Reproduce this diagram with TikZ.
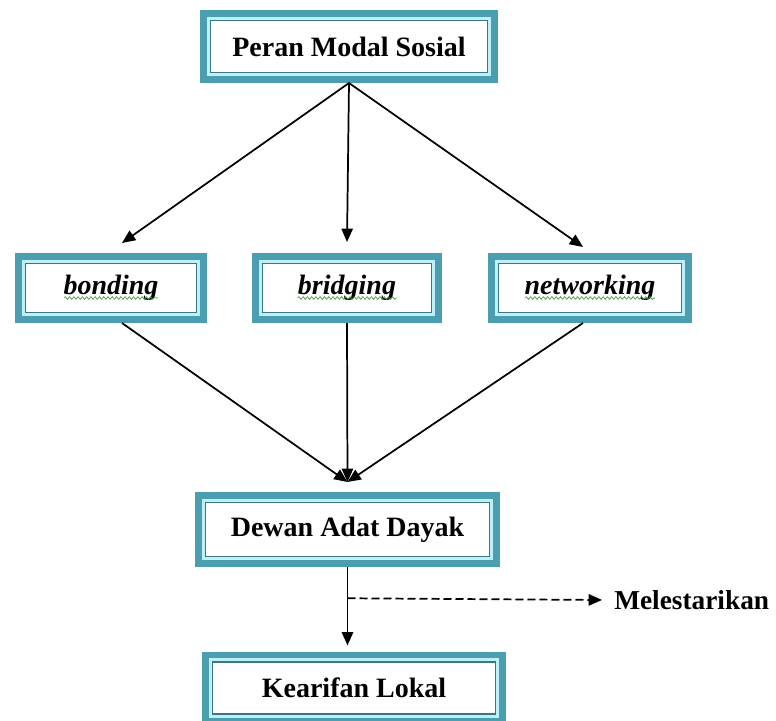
\documentclass[tikz,border=0pt]{standalone}
\usepackage{fontspec}
\setmainfont{Liberation Serif}
\usepackage{tikz}
\usetikzlibrary{calc, positioning, arrows.meta, decorations.pathmorphing}
\usepackage{color}
\definecolor{boxteal}{RGB}{74,158,176}
\definecolor{gapcyan}{RGB}{190,240,248}
\definecolor{innerteal}{RGB}{58,118,132}
\definecolor{wavegreen}{RGB}{70,150,70}

\begin{document}
\begin{tikzpicture}[x=0.75pt, y=0.75pt]
    % Setup the styles for the boxes and arrows
        \tikzset{modal box/.style={rectangle,
                                   draw=boxteal,
                                   line width=5pt,
                                   fill=white,
                                   inner sep=0pt,
                                   font=\fontsize{21}{25}\selectfont\bfseries},
                 gap line/.style={draw=gapcyan, line width=2.2pt},
                 inner line/.style={draw=innerteal, line width=0.8pt},
                 spell wave/.style={draw=wavegreen, line width=0.5pt,
                                    decorate, decoration={snake, amplitude=1pt, segment length=3.2pt}},
                 link/.style={line width=1.3pt, -{Triangle[length=10pt,width=8.5pt]}}}
        \useasboundingbox (0,0) rectangle (776,-721);
        % Draw the boxes
        \node[modal box, minimum width=218.5pt, minimum height=49.75pt] at (349,-46.5) (peran) {Peran Modal Sosial};
        \node[modal box, minimum width=139pt, minimum height=47.5pt] at (111,-288) (bond) {\itshape bonding};
        \node[modal box, minimum width=137.5pt, minimum height=47.5pt] at (347,-288) (bridg) {\itshape bridging};
        \node[modal box, minimum width=148pt, minimum height=47.5pt] at (590,-288) (netw) {\itshape networking};
        \node[modal box, minimum width=223.75pt, minimum height=51.25pt] at (347.5,-529.5) (dewan) {Dewan Adat Dayak};
        \node[modal box, minimum width=223pt, minimum height=49.75pt] at (354,-688) (kearif) {Kearifan Lokal};
        \node[font=\fontsize{20.5}{25}\selectfont\bfseries, anchor=west, inner sep=0pt] at (614,-600) (lestari) {Melestarikan};
        % Double frame inside every box
        \foreach \n in {peran,bond,bridg,netw,dewan,kearif}{
            \draw[gap line] ([shift={(8.3,-8.3)}]\n.north west) rectangle ([shift={(-8.3,8.3)}]\n.south east);
            \draw[inner line] ([shift={(10.5,-10.5)}]\n.north west) rectangle ([shift={(-10.5,10.5)}]\n.south east);
        }
        % Wavy marks under the italic words
        \foreach \n/\w in {bond/94, bridg/99, netw/130}{
            \draw[spell wave] ([shift={(-\w/2,-10)}]\n.center) -- ([shift={(\w/2,-10)}]\n.center);
        }
        % Points where the arrows meet
        \coordinate (meet) at ($(dewan.north)+(0,10)$);
        \coordinate (branch) at ($(dewan.south)!0.37!(dewan.south |- kearif.north)$);
        % Connect the boxes with arrows
        \draw[link] (peran.south) -- ([shift={(11,10)}]bond.north);
        \draw[link] (peran.south) -- ([shift={(0,11)}]bridg.north);
        \draw[link] (peran.south) -- ([shift={(-7,6)}]netw.north);
        \draw[link] ([shift={(11,0)}]bond.south) -- (meet);
        \draw[link] (bridg.south) -- (meet);
        \draw[link] ([shift={(-7,0)}]netw.south) -- (meet);
        \draw[link] (dewan.south) -- ([shift={(0,6)}]dewan.south |- kearif.north);
        \draw[link, dash pattern=on 6pt off 3pt] (branch) -- ([shift={(-12,0)}]lestari.west);
\end{tikzpicture}
\end{document}
